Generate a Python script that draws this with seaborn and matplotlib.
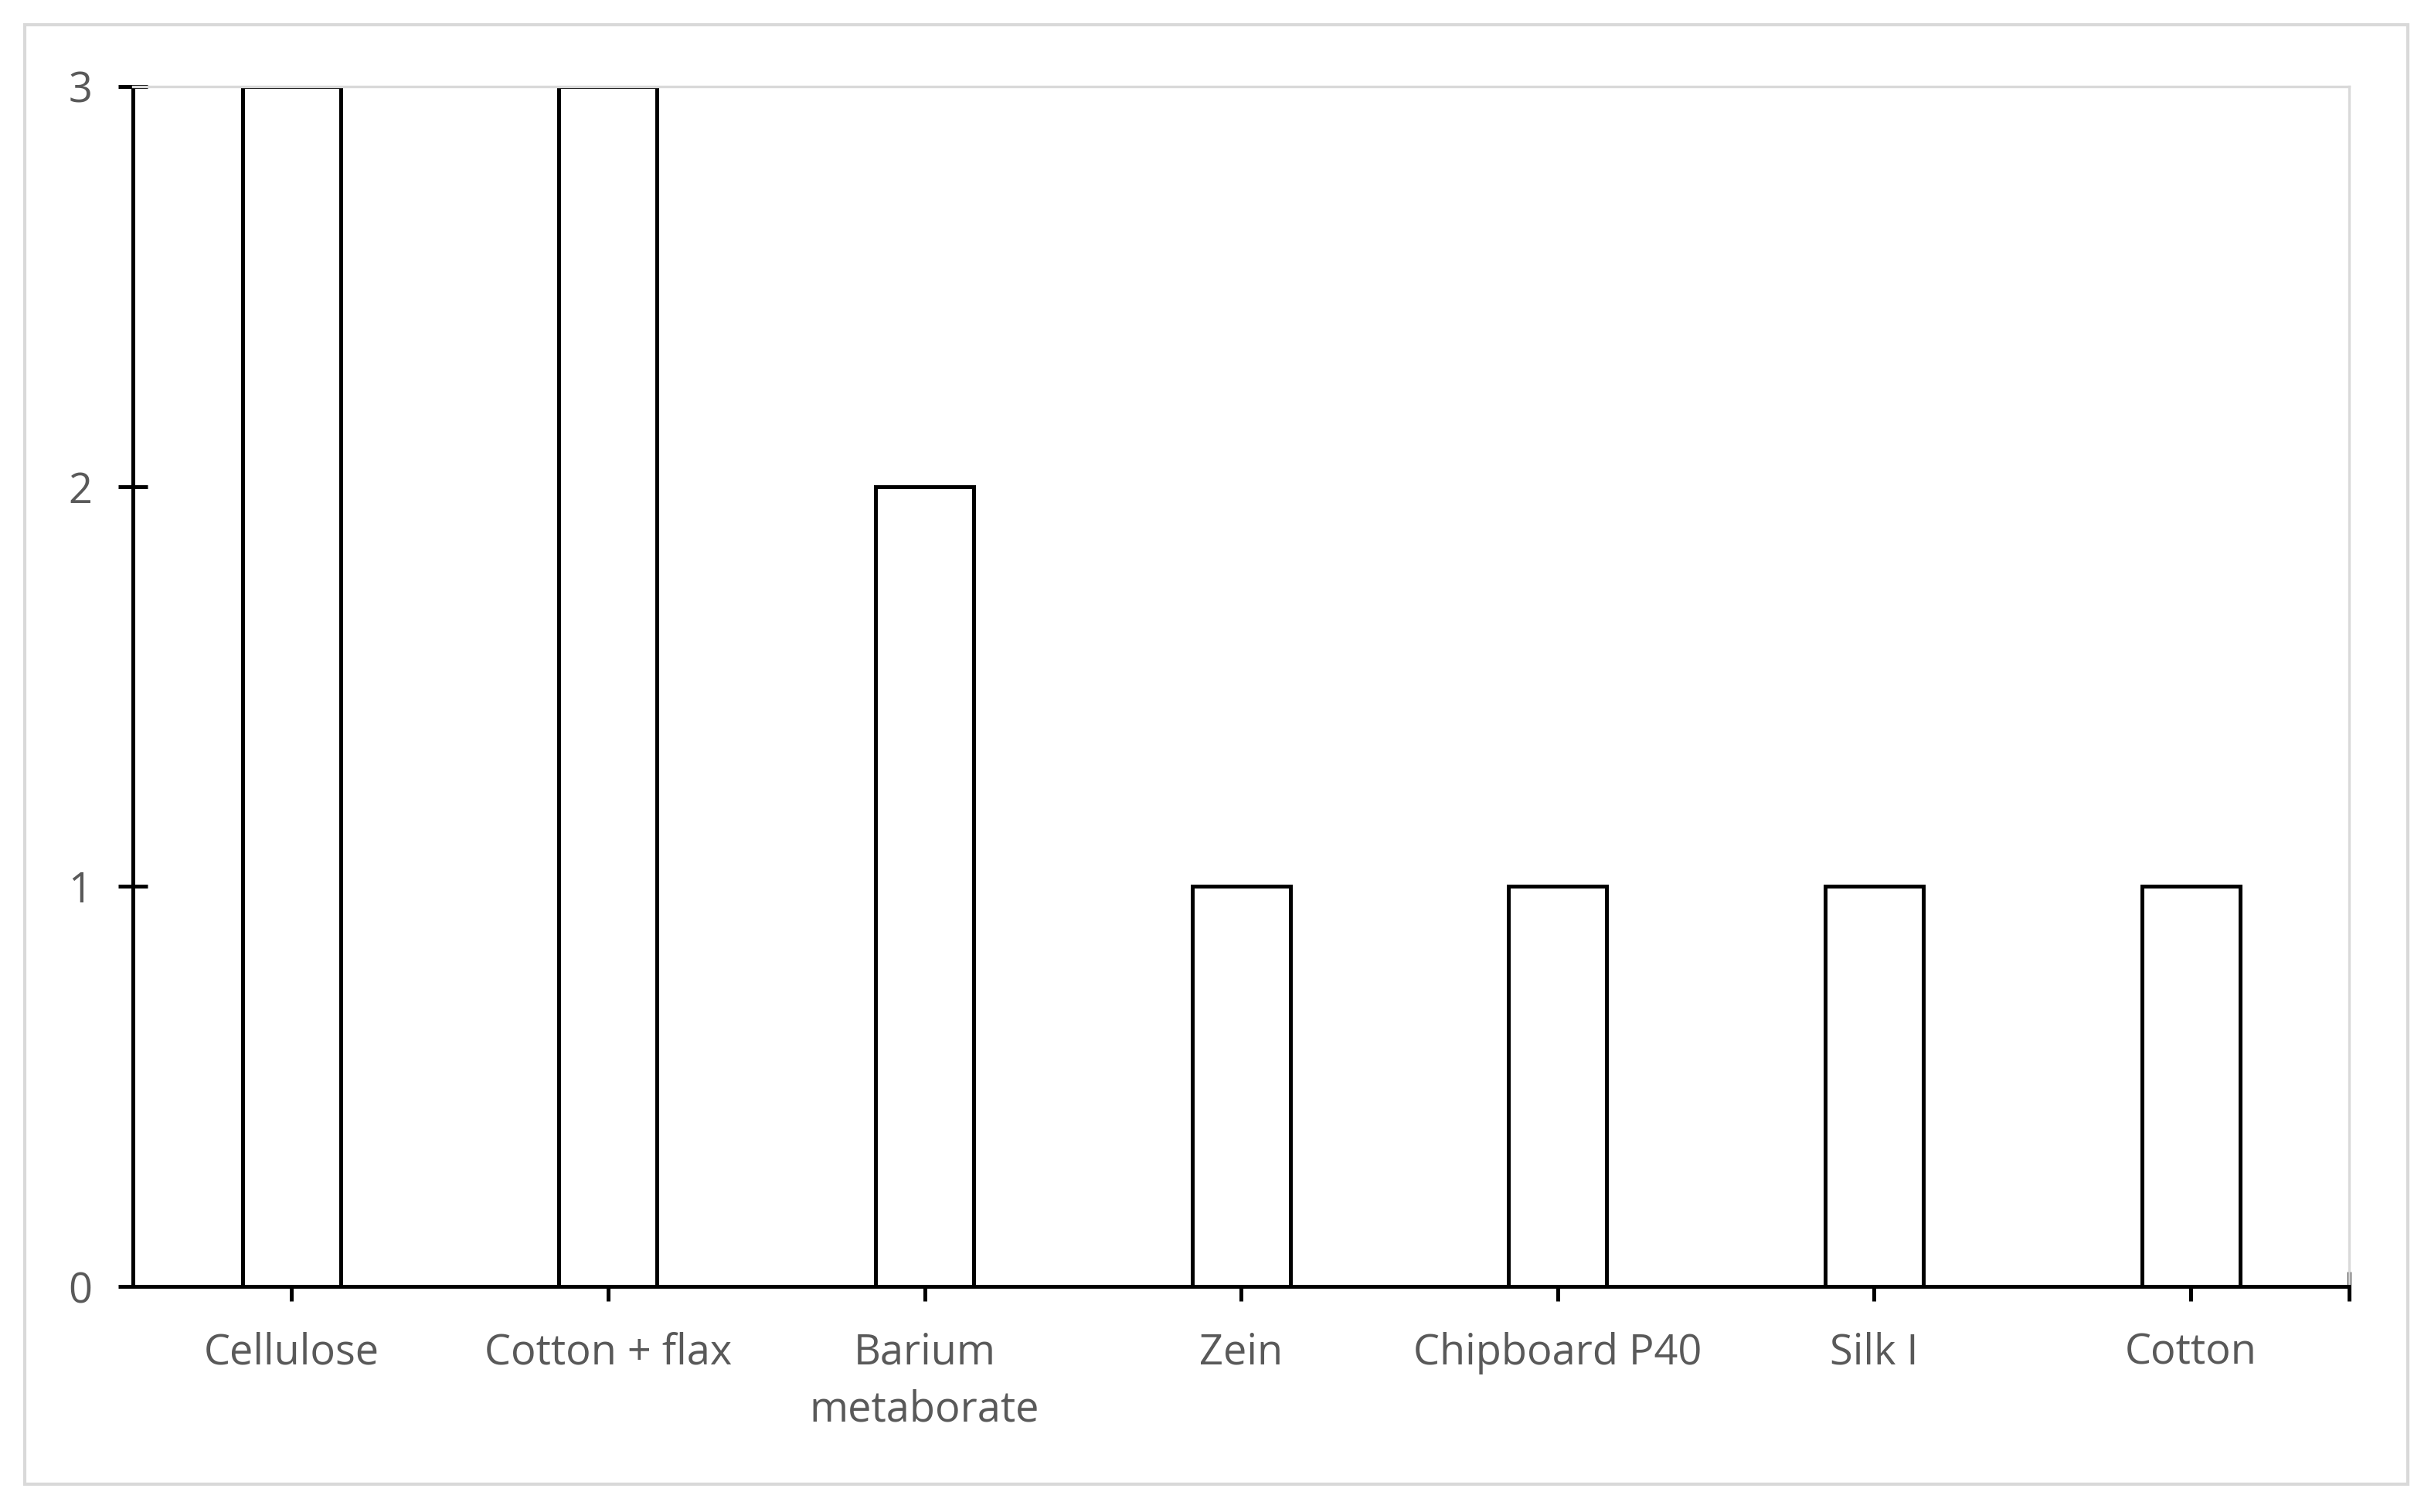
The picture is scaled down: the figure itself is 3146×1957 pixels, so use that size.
import matplotlib
matplotlib.use('Agg')
import matplotlib.pyplot as plt
import seaborn as sns
import pandas as pd
from matplotlib.patches import Rectangle

categories = ['Cellulose', 'Cotton + flax', 'Barium\nmetaborate', 'Zein',
              'Chipboard P40', 'Silk I', 'Cotton']
counts = [3, 3, 2, 1, 1, 1, 1]

sns.set_style('white')
plt.rcParams['font.family'] = ['Open Sans', 'DejaVu Sans']

fig = plt.figure(figsize=(15.73, 9.785), dpi=200)
ax = fig.add_axes([0.0548, 0.149, 0.9115, 0.794])

df = pd.DataFrame({'cat': categories, 'n': counts})
sns.barplot(data=df, x='cat', y='n', ax=ax, color='white', width=0.31,
            edgecolor='black', linewidth=1.8, saturation=1)

ax.set_xlim(-0.5, 6.5)
ax.set_ylim(0, 3)
ax.set_yticks([0, 1, 2, 3])
ax.set_xlabel('')
ax.set_ylabel('')
ax.set_xticks([6.5], minor=True)
ax.tick_params(axis='both', which='both', direction='inout', length=14, width=1.8,
               color='black', labelsize=19.5, labelcolor='#595959', pad=14,
               bottom=True, left=True)
ax.tick_params(axis='y', pad=12)
for lbl in ax.get_xticklabels():
    lbl.set_linespacing(1.45)
for s in ['left', 'bottom']:
    ax.spines[s].set_color('black')
    ax.spines[s].set_linewidth(1.8)
for s in ['top', 'right']:
    ax.spines[s].set_color('#d9d9d9')
    ax.spines[s].set_linewidth(1.2)

fig.patches.append(Rectangle((0.0102, 0.0184), 0.9802, 0.9653, transform=fig.transFigure,
                             fill=False, edgecolor='#d9d9d9', linewidth=1.5))

fig.savefig('out.png', dpi=200)
